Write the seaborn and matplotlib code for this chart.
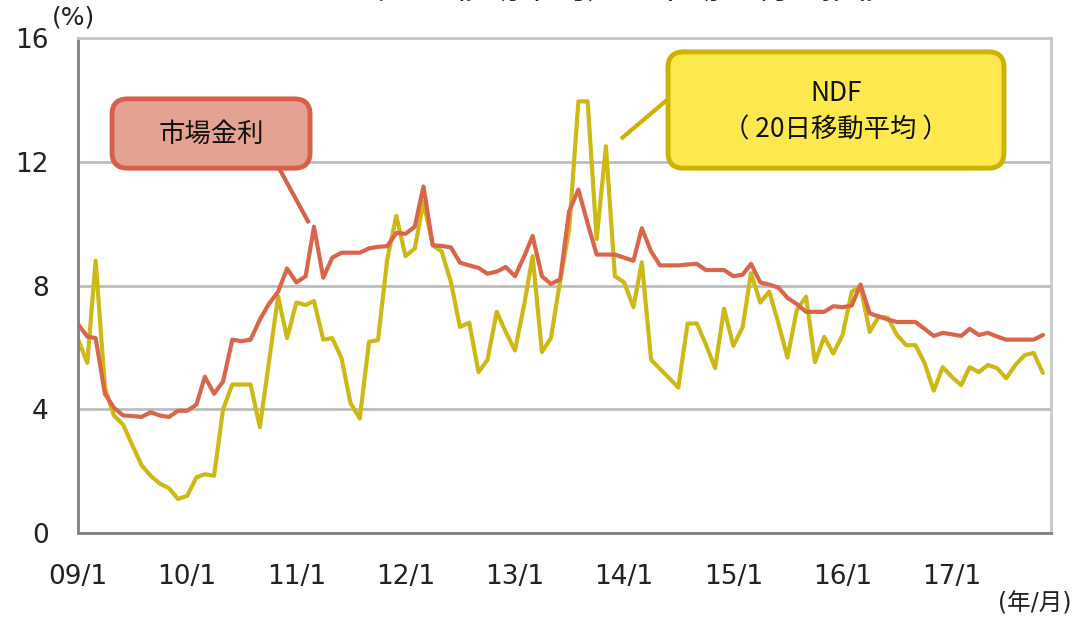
import pandas as pd
import numpy as np
import matplotlib
matplotlib.use('Agg')
import matplotlib.pyplot as plt
import seaborn as sns
from matplotlib.patches import FancyBboxPatch

# monthly values, Jan 2009 onward (%)
market_rate = [
    6.75, 6.35, 6.3, 4.5, 4.05, 3.8, 3.78, 3.75, 3.9, 3.8, 3.75, 3.95,
    3.95, 4.15, 5.05, 4.5, 4.9, 6.25, 6.2, 6.25, 6.9, 7.4, 7.8, 8.55,
    8.1, 8.3, 9.9, 8.25, 8.9, 9.06, 9.06, 9.06, 9.2, 9.25, 9.27, 9.7,
    9.67, 9.9, 11.2, 9.3, 9.28, 9.23, 8.74, 8.65, 8.57, 8.38, 8.45, 8.6,
    8.3, 8.95, 9.6, 8.3, 8.05, 8.2, 10.4, 11.1, 10.0, 9.0, 9.0, 9.0,
    8.9, 8.8, 9.85, 9.1, 8.65, 8.65, 8.65, 8.68, 8.7, 8.5, 8.5, 8.5,
    8.3, 8.35, 8.7, 8.1, 8.03, 7.93, 7.6, 7.4, 7.15, 7.15, 7.15, 7.33,
    7.3, 7.35, 8.03, 7.1, 7.0, 6.9, 6.82, 6.82, 6.82, 6.6, 6.37, 6.47,
    6.42, 6.37, 6.6, 6.4, 6.47, 6.35, 6.25, 6.25, 6.25, 6.25, 6.4,
]
ndf_20d = [
    6.26, 5.5, 8.8, 4.7, 3.8, 3.5, 2.85, 2.2, 1.85, 1.6, 1.45, 1.1,
    1.2, 1.8, 1.9, 1.85, 4.0, 4.8, 4.8, 4.8, 3.42, 5.5, 7.65, 6.3,
    7.45, 7.37, 7.5, 6.25, 6.3, 5.65, 4.2, 3.7, 6.18, 6.24, 8.85, 10.25,
    8.95, 9.2, 10.7, 9.3, 9.1, 8.1, 6.66, 6.8, 5.2, 5.6, 7.15, 6.5,
    5.9, 7.4, 8.95, 5.85, 6.3, 8.15, 9.8, 13.95, 13.95, 9.5, 12.5, 8.3,
    8.1, 7.3, 8.75, 5.6, 5.3, 5.0, 4.7, 6.77, 6.77, 6.1, 5.33, 7.25,
    6.05, 6.65, 8.4, 7.45, 7.8, 6.77, 5.67, 7.2, 7.64, 5.52, 6.34, 5.8,
    6.4, 7.8, 7.97, 6.5, 7.0, 6.95, 6.4, 6.07, 6.07, 5.5, 4.6, 5.36,
    5.04, 4.78, 5.36, 5.2, 5.43, 5.33, 5.0, 5.43, 5.75, 5.82, 5.17,
]
tick_years = [2009, 2010, 2011, 2012, 2013, 2014, 2015, 2016, 2017]
tick_labels = ['09/1', '10/1', '11/1', '12/1', '13/1', '14/1', '15/1', '16/1', '17/1']
y_ticks = [0, 4, 8, 12, 16]

RED = '#D9654B'
YELLOW = '#CDB916'
CJK = ['Noto Sans CJK JP', 'DejaVu Sans']

dates = pd.date_range('2009-01-01', periods=len(market_rate), freq='MS')
df = pd.DataFrame({'date': np.concatenate([dates, dates]),
                   'value': market_rate + ndf_20d,
                   'series': ['市場金利'] * len(dates) + ['NDF'] * len(dates)})

sns.set_style('white')
plt.rcParams['font.family'] = ['DejaVu Sans', 'Noto Sans CJK JP']

fig = plt.figure(figsize=(10.89, 6.21), dpi=100)
ax = fig.add_axes([78 / 1089, 88 / 621, 973 / 1089, 495 / 621])

sns.lineplot(data=df, x='date', y='value', hue='series', hue_order=['NDF', '市場金利'],
             palette={'NDF': YELLOW, '市場金利': RED}, linewidth=3, legend=False, ax=ax)

ax.set_xlim(pd.Timestamp('2009-01-01'), pd.Timestamp('2017-11-28'))
ax.set_ylim(0, 16)
ax.set_xticks([pd.Timestamp(f'{y}-01-01') for y in tick_years])
ax.set_xticklabels(tick_labels)
ax.set_yticks(y_ticks)
ax.set_xlabel('')
ax.set_ylabel('')
ax.grid(axis='y', color='#BDBDBD', linewidth=2)
ax.set_axisbelow(True)
for side in ['left', 'bottom']:
    ax.spines[side].set_color('#808080')
    ax.spines[side].set_linewidth(2)
for side in ['right', 'top']:
    ax.spines[side].set_color('#C8C8C8')
    ax.spines[side].set_linewidth(2)
ax.tick_params(axis='x', direction='in', length=7, width=1.5, color='#808080',
               labelsize=19, pad=22, labelcolor='#222222')
ax.tick_params(axis='y', direction='in', length=5, width=1.5, color='#808080',
               labelsize=19, pad=21, labelcolor='#222222')

# unit labels
fig.text(73 / 1089, 1 - 17 / 621, '(%)', fontsize=18, ha='center', va='center', color='#222222')
fig.text(1035 / 1089, 1 - 603 / 621, '(年/月)', fontsize=17, ha='center', va='center', color='#222222')

# title, cut off at the top edge as in the source image
fig.text(620 / 1089, 1 - 6 / 621, '（20日移動平均）と市場金利の推移', fontsize=24,
         family=CJK, ha='center', va='bottom', color='#222222')

# callout boxes
asp = 973 / 495
red_box = FancyBboxPatch((0.035, 0.737), 0.2035, 0.14, transform=ax.transAxes,
                         boxstyle='round,pad=0,rounding_size=0.016', mutation_aspect=asp,
                         facecolor='#E4A293', edgecolor='#D5614A', linewidth=3.5,
                         clip_on=False, zorder=5)
ax.add_patch(red_box)
ax.plot([0.2066, 0.2374], [0.737, 0.626], transform=ax.transAxes, color='#D5614A',
        linewidth=3, solid_capstyle='butt', zorder=5)
ax.text(0.1367, 0.806, '市場金利', transform=ax.transAxes, fontsize=19, family=CJK,
        ha='center', va='center', color='#111111', zorder=6)

ndf_box = FancyBboxPatch((0.6064, 0.737), 0.3453, 0.235, transform=ax.transAxes,
                         boxstyle='round,pad=0,rounding_size=0.016', mutation_aspect=asp,
                         facecolor='#FDE84E', edgecolor='#CDB200', linewidth=3.5,
                         clip_on=False, zorder=5)
ax.add_patch(ndf_box)
ax.plot([0.6054, 0.558], [0.875, 0.796], transform=ax.transAxes, color='#CDB200',
        linewidth=3, solid_capstyle='butt', zorder=5)
ax.text(0.779, 0.887, 'NDF', transform=ax.transAxes, fontsize=19, family=CJK,
        ha='center', va='center', color='#111111', zorder=6)
ax.text(0.779, 0.814, '（ 20日移動平均 ）', transform=ax.transAxes, fontsize=19, family=CJK,
        ha='center', va='center', color='#111111', zorder=6)

plt.savefig('out.png', dpi=100)
plt.close()
